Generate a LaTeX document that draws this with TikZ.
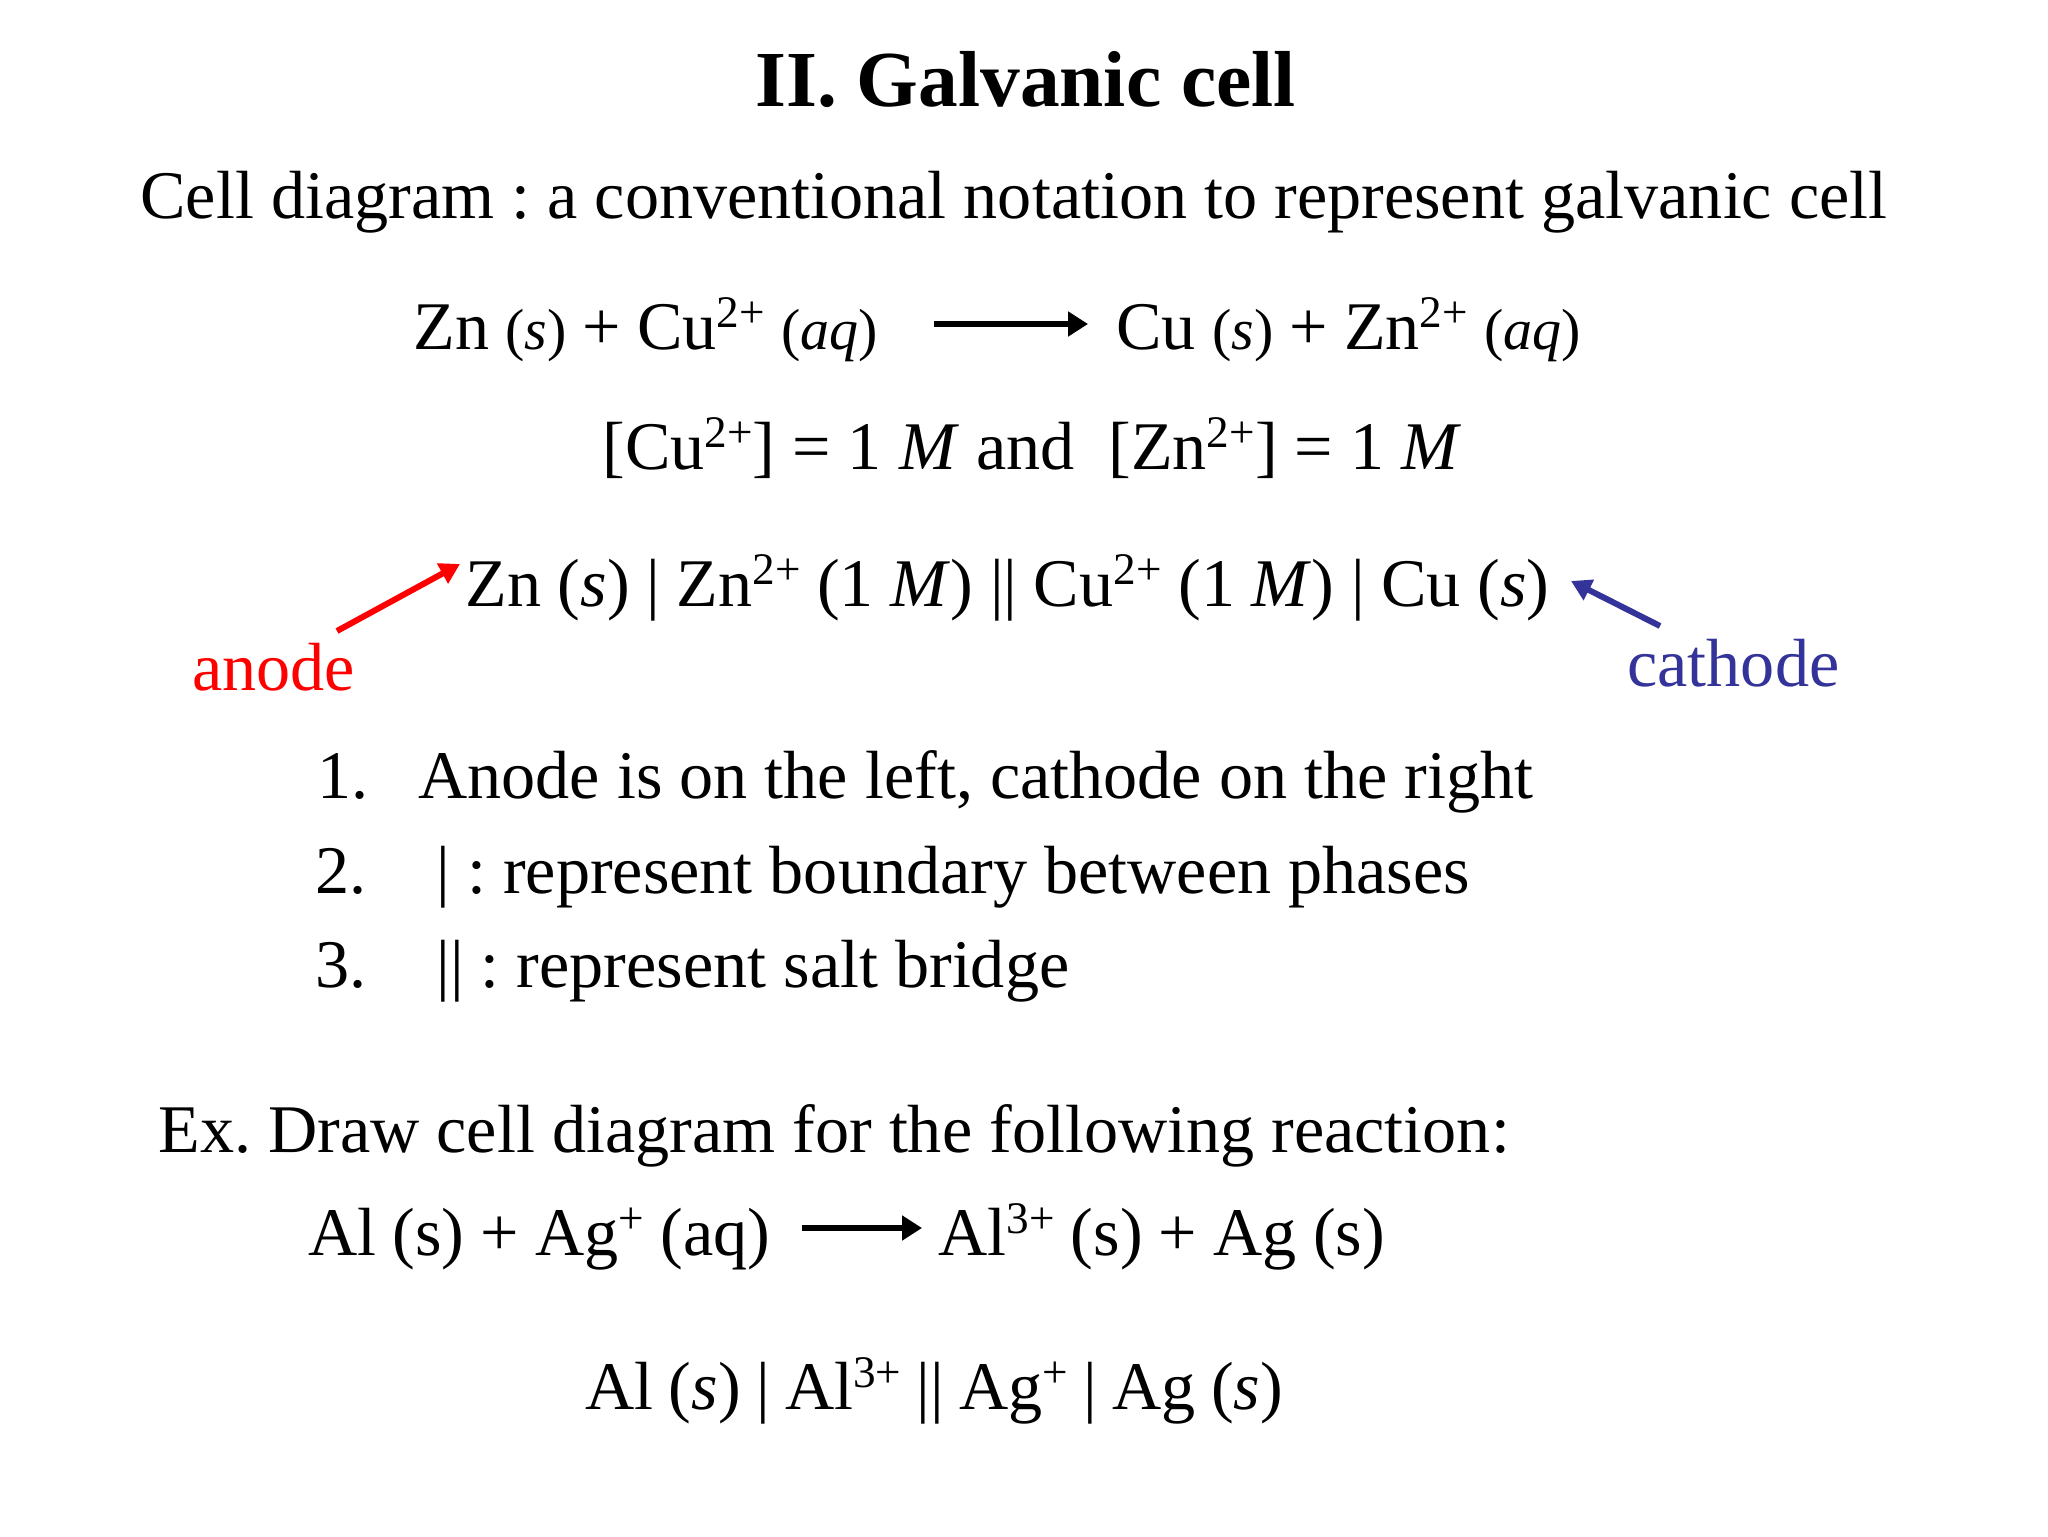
\documentclass[tikz,border=0pt]{standalone}
\usepackage{fontspec}
\setmainfont{Liberation Serif}
\usetikzlibrary{arrows.meta}
\definecolor{cathodeblue}{RGB}{51,51,153}
\newcommand{\sps}[1]{\raisebox{0.31em}{\fontsize{22.6}{26}\selectfont #1}}
\newcommand{\smp}[1]{{\fontsize{29}{32}\selectfont #1}}
\tikzset{
  line/.style={anchor=base west,inner sep=0pt,font=\fontsize{34.08}{40}\selectfont\frenchspacing},
  tight/.style={line,execute at begin node={\spaceskip=0.2375em\relax}},
  headline/.style={anchor=base west,inner sep=0pt,font=\fontsize{39.7}{46}\selectfont\bfseries},
  rxn/.style={line width=3pt,-{Triangle[length=10pt,width=12pt]}},
  callout/.style={line width=3pt,-{Triangle[length=10pt,width=11pt]}}
}
\begin{document}
\begin{tikzpicture}[x=0.5pt,y=-0.5pt]
\useasboundingbox (0,0) rectangle (2048,1536);
\node[headline] (title) at (755,106) {II. Galvanic cell};
\node[line] (intro) at (140,218) {Cell diagram : a conventional notation to represent galvanic cell};
\node[tight] (eqL) at (413,349) {Zn \smp{(\textit{s})} + Cu\sps{2+} \smp{(\textit{aq})}};
\node[tight] (eqR) at (1116,349) {Cu \smp{(\textit{s})} + Zn\sps{2+} \smp{(\textit{aq})}};
\coordinate (a1) at (934,324);
\coordinate (a2) at (1088,324);
\draw[rxn] (a1) -- (a2);
\node[line] (conc) at (602,469) {[Cu\sps{2+}] = 1 \textit{M} and\hspace{0.25em} [Zn\sps{2+}] = 1 \textit{M}};
\node[line,execute at begin node={\spaceskip=0.245em\relax}] (cell) at (465,606) {Zn (\textit{s}) | Zn\sps{2+} (1 \textit{M}) || Cu\sps{2+} (1 \textit{M}) | Cu (\textit{s})};
\node[line,text=red] (anode) at (192,690) {anode};
\node[line,text=cathodeblue] (cathode) at (1627,686) {cathode};
\coordinate (b1) at (337,631);
\coordinate (b2) at (460,564);
\draw[callout,red] (b1) -- (b2);
\coordinate (c1) at (1660,626);
\coordinate (c2) at (1571,581);
\draw[callout,cathodeblue] (c1) -- (c2);
\node[line] (n1) at (317,798) {1.};
\node[line] (t1) at (418,798) {Anode is on the left, cathode on the right};
\node[line] (n2) at (315,893) {2.};
\node[line] (t2) at (436,893) {| : represent boundary between phases};
\node[line] (n3) at (315,987) {3.};
\node[line] (t3) at (436,987) {|| : represent salt bridge};
\node[line] (ex) at (158,1152) {Ex. Draw cell diagram for the following reaction:};
\node[tight] (alL) at (308,1255) {Al (s) + Ag\sps{+} (aq)};
\node[tight] (alR) at (938,1255) {Al\sps{3+} (s) + Ag (s)};
\coordinate (d1) at (802,1228);
\coordinate (d2) at (922,1228);
\draw[rxn] (d1) -- (d2);
\node[line,execute at begin node={\spaceskip=0.225em\relax}] (ans) at (585,1409) {Al (\textit{s}) | Al\sps{3+} || Ag\sps{+} | Ag (\textit{s})};
\end{tikzpicture}
\end{document}
